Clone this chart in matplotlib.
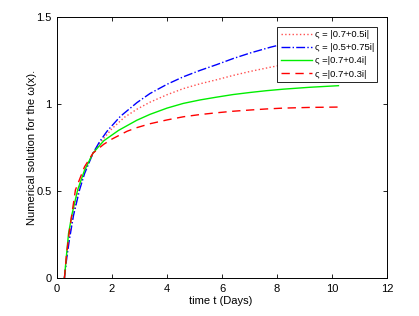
import matplotlib
matplotlib.use("Agg")
import matplotlib.pyplot as plt

plt.rcParams['font.family'] = ['Liberation Sans', 'DejaVu Sans']

t_dot = [0.27, 0.35, 0.45, 0.6, 0.78, 1.0, 1.31, 1.6, 2.0, 2.45, 2.91, 3.38, 4.0, 4.59, 5.2, 5.8, 6.4, 7.02, 7.75, 8.23, 9.2, 10.23]
v_dot = [0.0, 0.12, 0.24, 0.37, 0.507, 0.61, 0.719, 0.785, 0.86, 0.925, 0.972, 1.012, 1.055, 1.09, 1.118, 1.141, 1.166, 1.189, 1.213, 1.228, 1.248, 1.265]

t_blue = [0.27, 0.35, 0.45, 0.6, 0.82, 1.0, 1.31, 1.55, 1.82, 2.3, 2.91, 3.38, 4.0, 4.59, 5.2, 5.8, 6.4, 7.02, 7.75, 8.23, 9.2, 10.23]
v_blue = [0.0, 0.11, 0.22, 0.36, 0.507, 0.6, 0.719, 0.785, 0.845, 0.93, 1.01, 1.062, 1.115, 1.158, 1.195, 1.228, 1.263, 1.295, 1.328, 1.347, 1.375, 1.40]

t_green = [0.27, 0.35, 0.42, 0.55, 0.75, 1.0, 1.31, 1.7, 2.24, 2.9, 3.38, 4.0, 4.59, 5.2, 5.8, 6.4, 7.02, 7.6, 8.23, 9.2, 10.23]
v_green = [0.0, 0.14, 0.257, 0.37, 0.507, 0.62, 0.719, 0.79, 0.85, 0.908, 0.942, 0.978, 1.005, 1.025, 1.041, 1.056, 1.068, 1.078, 1.087, 1.098, 1.107]

t_red = [0.27, 0.35, 0.45, 0.67, 1.0, 1.31, 1.7, 2.0, 2.55, 2.91, 3.38, 4.0, 4.59, 5.2, 5.8, 6.4, 7.02, 7.6, 8.23, 9.2, 10.23]
v_red = [0.0, 0.14, 0.27, 0.507, 0.64, 0.719, 0.77, 0.80, 0.845, 0.866, 0.888, 0.91, 0.928, 0.941, 0.951, 0.96, 0.967, 0.973, 0.978, 0.982, 0.984]

labels = ["ς = |0.7+0.5i|", "ς = |0.5+0.75i|", "ς =|0.7+0.4i|", "ς =|0.7+0.3i|"]

fig = plt.figure(figsize=(4.19, 3.16), dpi=100)
ax = fig.add_axes([0.136, 0.120, 0.788, 0.825])

ax.plot(t_dot, v_dot, ':', color='#ff5050', lw=1.0, label=labels[0])
ax.plot(t_blue, v_blue, '-.', color='#0000ff', lw=1.0, label=labels[1])
ax.plot(t_green, v_green, '-', color='#00ee00', lw=1.0, label=labels[2])
ax.plot(t_red, v_red, '--', color='#ff0000', lw=1.0, label=labels[3], dashes=(6, 4))

ax.set_xlim(0, 12)
ax.set_ylim(0, 1.5)
ax.set_xticks([0, 2, 4, 6, 8, 10, 12])
ax.set_yticks([0, 0.5, 1, 1.5])
ax.set_yticklabels(['0', '0.5', '1', '1.5'])
ax.tick_params(direction='in', top=True, right=True, labelsize=8, length=3, width=0.6, pad=4)
for s in ax.spines.values():
    s.set_linewidth(0.7)

ax.set_xlabel('time t (Days)', fontsize=8)
ax.xaxis.set_label_coords(0.497, -0.07)
ax.set_ylabel('Numerical solution for the ω(x).', fontsize=8)
ax.yaxis.set_label_coords(-0.062, 0.50)

leg = ax.legend(loc='upper right', fontsize=6.8, bbox_to_anchor=(0.97, 0.965),
                frameon=True, fancybox=False, edgecolor='black', framealpha=1,
                handlelength=3.3, handletextpad=0.3, borderpad=0.35, labelspacing=0.45,
                borderaxespad=0)
leg.get_frame().set_linewidth(0.6)

fig.savefig('out.png', dpi=100)
